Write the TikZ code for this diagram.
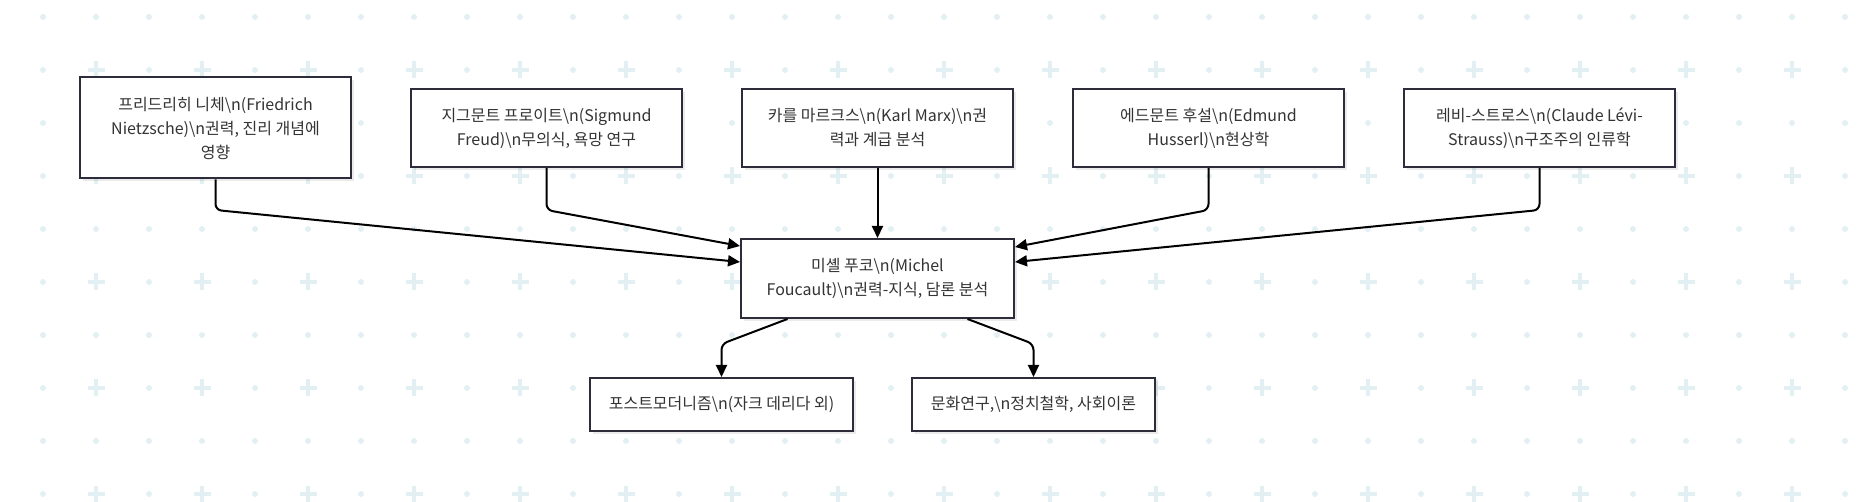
\documentclass[tikz,border=0pt]{standalone}
\usepackage{fontspec}
\setmainfont{Noto Sans CJK KR}
\usepackage{xcolor}
\usetikzlibrary{arrows.meta,positioning,calc,shadows}
\definecolor{gridblue}{HTML}{E2EFF3}
\definecolor{boxline}{HTML}{2C2C3A}
\definecolor{textgrey}{HTML}{333333}
\tikzset{
    phil-box/.style={
        rectangle,
        draw=boxline,
        line width=2pt,
        fill=white,
        text=textgrey,
        align=center,
        minimum width=271pt,
        minimum height=78pt,
        font=\fontsize{16}{24}\selectfont,
        drop shadow={shadow xshift=3pt,shadow yshift=-3pt,fill=black,opacity=0.08}
    },
    out-box/.style={
        phil-box,
        minimum height=53pt
    },
    flow/.style={
        draw=black,
        line width=2pt,
        rounded corners=6pt,
        -{Triangle[length=12pt,width=11pt]}
    },
}

\begin{document}
\begin{tikzpicture}[x=1pt,y=-1pt]
       \useasboundingbox (0,0) rectangle (1858,502);
       % dotted background
       \foreach \i in {0,...,34}{
         \foreach \j in {0,...,9}{
           \pgfmathtruncatemacro{\odd}{mod(\i,2)*mod(\j,2)}
           \ifnum\odd=1
             \fill[gridblue] (43+53*\i-8.5,17+53*\j-2) rectangle ++(17,4);
             \fill[gridblue] (43+53*\i-2,17+53*\j-8.5) rectangle ++(4,17);
           \else
             \fill[gridblue] (43+53*\i,17+53*\j) circle (3pt);
           \fi
         }
       }

       \node[phil-box,minimum width=273pt,minimum height=79pt] (foucault) at (877.5,278.5) {미셸 푸코\textbackslash n(Michel\\Foucault)\textbackslash n권력-지식, 담론 분석};
       \node[phil-box,above=70pt of foucault] (marx) {카를 마르크스\textbackslash n(Karl Marx)\textbackslash n권\\력과 계급 분석};
       \node[phil-box,left=58pt of marx] (freud) {지그문트 프로이트\textbackslash n(Sigmund\\Freud)\textbackslash n무의식, 욕망 연구};
       \node[phil-box,left=58pt of freud,minimum height=101pt] (nietzsche) {프리드리히 니체\textbackslash n(Friedrich\\Nietzsche)\textbackslash n권력, 진리 개념에\\영향};
       \node[phil-box,right=58pt of marx] (husserl) {에드문트 후설\textbackslash n(Edmund\\Husserl)\textbackslash n현상학};
       \node[phil-box,right=58pt of husserl] (levi) {레비-스트로스\textbackslash n(Claude Lévi-\\Strauss)\textbackslash n구조주의 인류학};
       \node[out-box,below=58pt of foucault,xshift=-156pt,minimum width=263pt] (postmod) {포스트모더니즘\textbackslash n(자크 데리다 외)};
       \node[out-box,below=58pt of foucault,xshift=156pt,minimum width=243pt] (culture) {문화연구,\textbackslash n정치철학, 사회이론};

       \coordinate (join-row) at ([yshift=28pt]foucault.north);
       \coordinate (split-row) at ([yshift=-25pt]foucault.south);

       \draw[flow] (nietzsche.south) -- (nietzsche.south |- join-row) -- ([yshift=-24pt]foucault.north west);
       \draw[flow] (freud.south) -- (freud.south |- join-row) -- ([yshift=-8pt]foucault.north west);
       \draw[flow] (marx.south) -- (foucault.north);
       \draw[flow] (husserl.south) -- (husserl.south |- join-row) -- ([yshift=-9pt]foucault.north east);
       \draw[flow] (levi.south) -- (levi.south |- join-row) -- ([yshift=-24pt]foucault.north east);
       \draw[flow] ([xshift=-90pt]foucault.south) -- (split-row -| postmod.north) -- (postmod.north);
       \draw[flow] ([xshift=90pt]foucault.south) -- (split-row -| culture.north) -- (culture.north);
\end{tikzpicture}
\end{document}
